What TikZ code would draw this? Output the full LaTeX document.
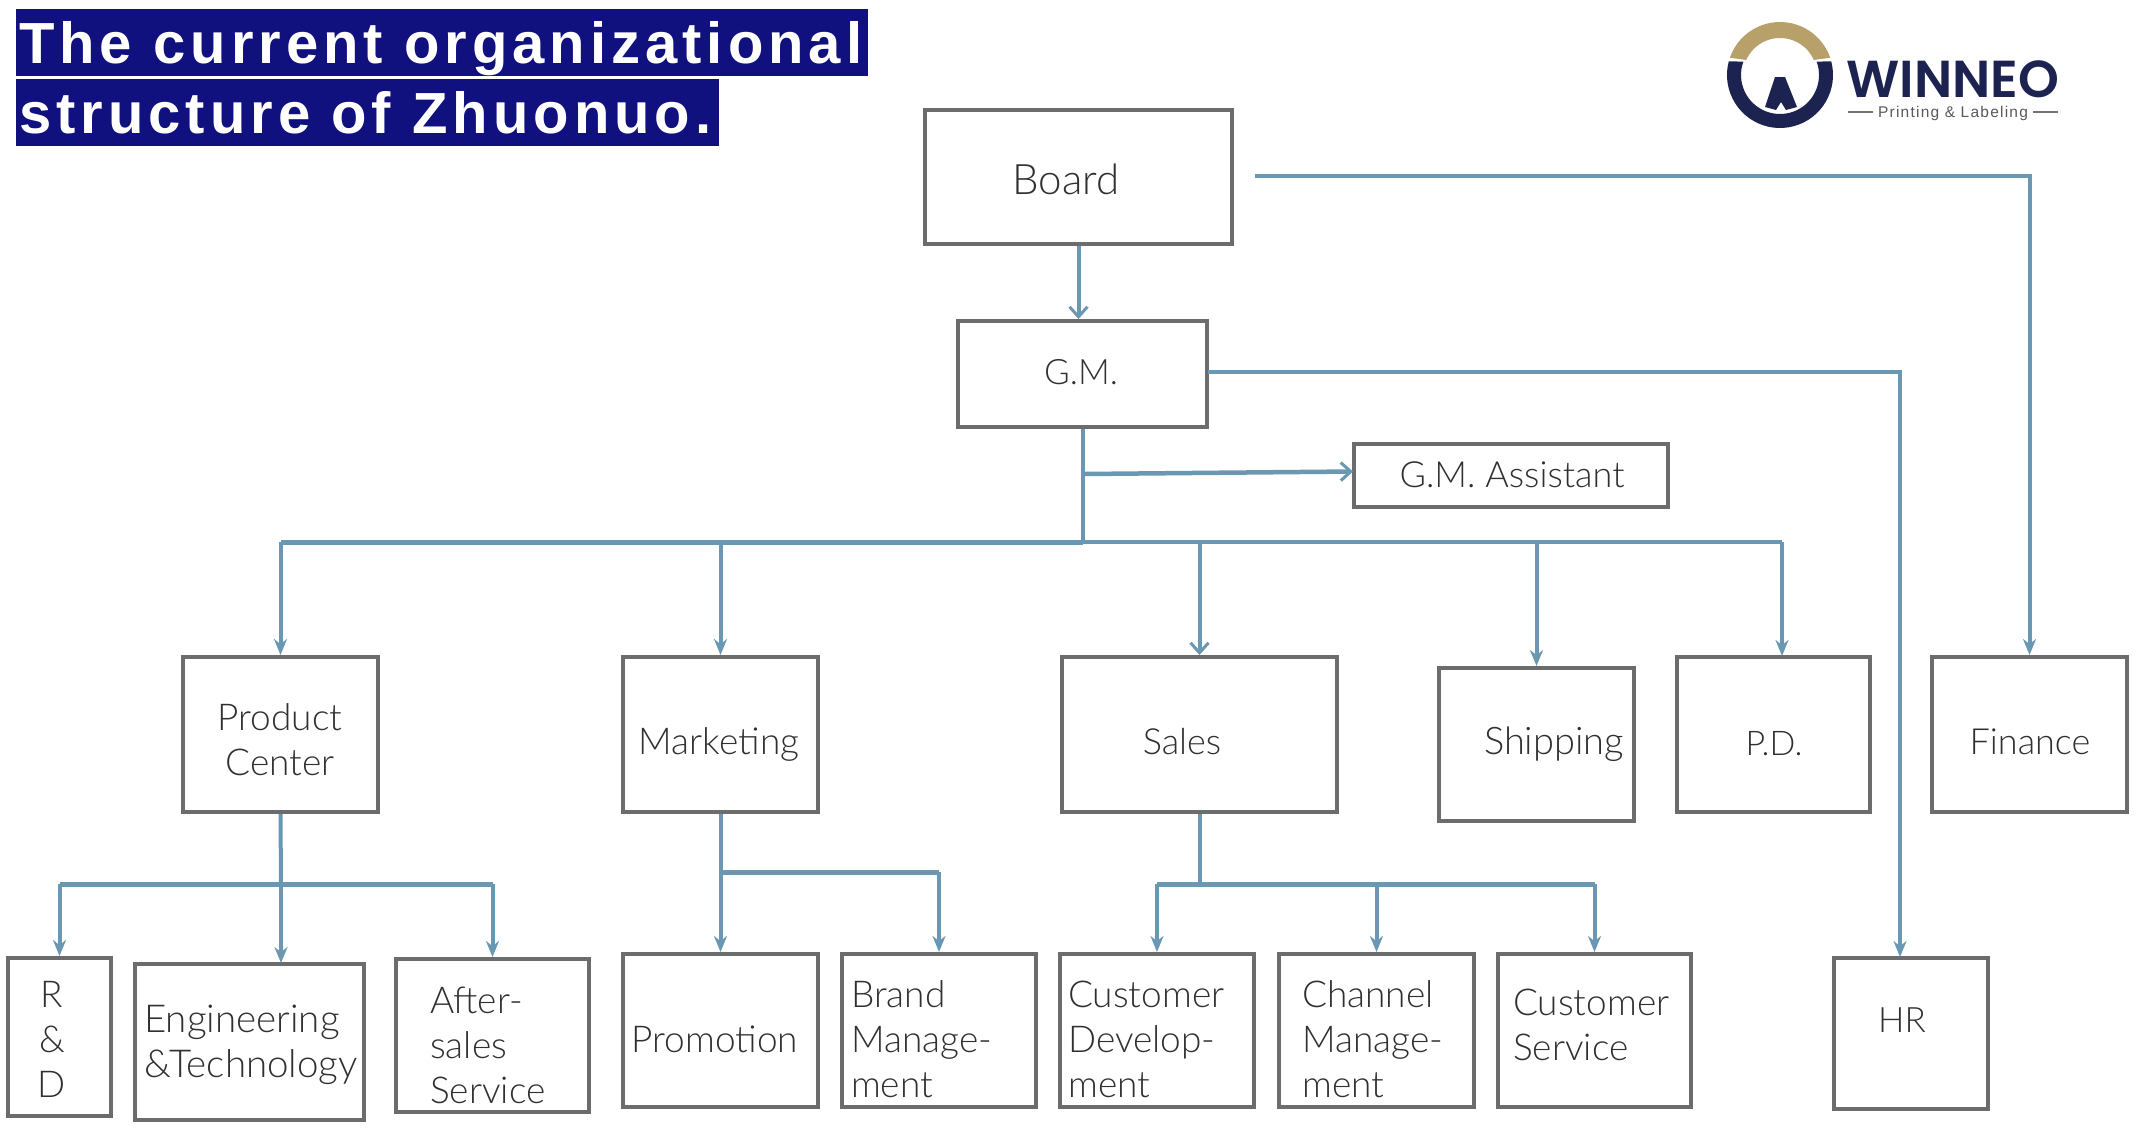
\documentclass[tikz,border=0pt]{standalone}
\usepackage{fontspec}
\usetikzlibrary{arrows.meta,calc}
\setmainfont{Lato Light}
\newfontfamily\titlefont[LetterSpace=8.6]{Liberation Sans Bold}
\newfontfamily\logofont{Poppins SemiBold}
\newfontfamily\logosub[LetterSpace=8]{Liberation Sans}
\definecolor{wireblue}{HTML}{6A97B2}
\definecolor{boxgray}{HTML}{6C6C6C}
\definecolor{titlenavy}{HTML}{10107F}
\definecolor{logonavy}{HTML}{1C2350}
\definecolor{logogold}{HTML}{B8A06A}
\definecolor{inktext}{HTML}{303030}
\tikzset{
  orgbox/.style={draw=boxgray,line width=4pt,fill=white,rectangle,inner sep=0pt},
  orgtext/.style={text=inktext,inner sep=0pt,font=\fontsize{37}{45}\selectfont},
  wire/.style={draw=wireblue,line width=4pt,line join=miter},
  bus/.style={draw=wireblue,line width=5pt},
  tip/.style={-{Stealth[length=16pt,width=13pt]}},
  opentip/.style={-{Straight Barb[length=10pt,width=18pt,line width=3pt]}},
  titleband/.style={fill=titlenavy,draw=none,inner sep=0pt,rectangle},
  titletext/.style={text=white,inner sep=0pt,anchor=base west,font=\titlefont\fontsize{58}{60}\selectfont},
}
\newcommand{\orgrect}[5]{%
  \node[orgbox,minimum width={(#4-#2-2)*1pt},minimum height={(#5-#3-2)*1pt}] (#1) at ({(#2+#4)/2},{(#3+#5)/2}) {};}
\begin{document}
\begin{tikzpicture}[x=1pt,y=-1pt]
\useasboundingbox (0,0) rectangle (2143,1127);
\fill[white] (0,0) rectangle (2143,1127);
% title
\node[titleband,minimum width=852pt,minimum height=67pt] (band1) at (442,42.5) {};
\node[titleband,minimum width=703pt,minimum height=67pt] (band2) at (367.5,112.5) {};
\node[titletext] (title1) at (19,63) {The current organizational};
\node[titletext] (title2) at (19,133) {structure of Zhuonuo.};
% logo
\begin{scope}[shift={(1780,75)}]
\fill[logogold] (-161:53) arc[start angle=-161,end angle=-19,radius=53] -- (-24:37) arc[start angle=-24,end angle=-156,radius=37] -- cycle;
\fill[logonavy] (-15:53) arc[start angle=-15,end angle=195,radius=53] -- (200:39) arc[start angle=200,end angle=-20,radius=39] -- cycle;
\end{scope}
\fill[logonavy] (1775,77) -- (1785,77) -- (1797,107) -- (1786,110) -- (1781,102) -- (1776,110) -- (1765,107) -- cycle;
\node[inner sep=0pt,text=logonavy] (logoword) at (1953,79) {\logofont\fontsize{52}{56}\selectfont WINNEO};
\node[inner sep=0pt,text=black!65] (logosub) at (1953,113) {\logosub\fontsize{15.5}{18}\selectfont Printing \& Labeling};
\coordinate (dashA1) at (1848,112); \coordinate (dashA2) at (1873,112);
\coordinate (dashB1) at (2033,112); \coordinate (dashB2) at (2058,112);
\draw[black!55,line width=1.2pt] (dashA1) -- (dashA2) (dashB1) -- (dashB2);
% boxes
\orgrect{board}{924}{109}{1233}{245}
\orgrect{gm}{957}{320}{1208}{428}
\orgrect{assistant}{1353}{443}{1669}{508}
\orgrect{pc}{182}{656}{379}{813}
\orgrect{mk}{622}{656}{819}{813}
\orgrect{sales}{1061}{656}{1338}{813}
\orgrect{ship}{1438}{667}{1635}{822}
\orgrect{pd}{1676}{656}{1871}{813}
\orgrect{fin}{1931}{656}{2128}{813}
\orgrect{rd}{7}{957}{112}{1117}
\orgrect{eng}{134}{963}{365}{1121}
\orgrect{after}{395}{958}{590}{1113}
\orgrect{promo}{622}{953}{819}{1108}
\orgrect{brand}{841}{953}{1037}{1108}
\orgrect{cdev}{1059}{953}{1255}{1108}
\orgrect{chan}{1278}{953}{1475}{1108}
\orgrect{cserv}{1497}{953}{1692}{1108}
\orgrect{hr}{1833}{957}{1989}{1110}
% texts
\node[orgtext,font=\fontsize{42}{45}\selectfont] (tboard) at (1066,179) {Board};
\node[orgtext,font=\fontsize{35}{45}\selectfont] (tgm) at (1081,372) {G.M.};
\node[orgtext,font=\fontsize{36}{45}\selectfont] (tassistant) at (1512,475) {G.M. Assistant};
\node[orgtext,align=center] (tpc) at (280,740) {Product\\Center};
\node[orgtext] (tmk) at (719,744) {Marketing};
\node[orgtext,font=\fontsize{36}{45}\selectfont] (tsales) at (1182,742) {Sales};
\node[orgtext,font=\fontsize{38}{45}\selectfont] (tship) at (1554,744) {Shipping};
\node[orgtext,font=\fontsize{34}{45}\selectfont] (tpd) at (1774,744) {P.D.};
\node[orgtext,font=\fontsize{36}{45}\selectfont] (tfin) at (2030,742) {Finance};
\node[orgtext,font=\fontsize{35}{45}\selectfont] (thr) at (1902,1020) {HR};
\node[orgtext,align=center] (trd) at (52,1039) {R\\\&\\D};
\node[orgtext,font=\fontsize{38.5}{45}\selectfont,align=left,anchor=west] (teng) at (144,1045) {Engineering\\\&Technology};
\node[orgtext,align=left,anchor=west] (tafter) at (430,1045) {After-\\sales\\Service};
\node[orgtext] (tpromo) at (715,1039) {Promotion};
\node[orgtext,align=left,anchor=west] (tbrand) at (851,1039) {Brand\\Manage-\\ment};
\node[orgtext,align=left,anchor=west] (tcdev) at (1068,1039) {Customer\\Develop-\\ment};
\node[orgtext,align=left,anchor=west] (tchan) at (1302,1039) {Channel\\Manage-\\ment};
\node[orgtext,align=left,anchor=west] (tcserv) at (1513,1025) {Customer\\Service};
% junctions
\coordinate (busmid) at (1082.5,542);
\coordinate (boardout) at (1255,176);
\coordinate (finturn) at (2029.5,176);
\coordinate (gmout) at (1208,372);
\coordinate (gmturn) at (1900,372);
\coordinate (hrin) at (1900,957);
\coordinate (asttap) at (1084,474);
\coordinate (astin) at (1353,471.5);
\coordinate (pdin) at (1782,656);
\coordinate (pcbus) at (281,884);
\coordinate (engin) at (281,963);
\coordinate (mkbus) at (720.5,872);
\coordinate (salesbus) at (1199.5,884);
% connectors
\draw[wire,opentip] (board.south) -- (gm.north -| board.south);
\draw[wire,tip] (boardout) -- (finturn) -- (fin.north);
\draw[wire,tip] (gmout) -- (gmturn) -- (hrin);
\draw[wire] (gm.south) -- (busmid);
\draw[wire,opentip,line width=4.5pt] (asttap) -- (astin);
\draw[bus] (busmid) -- (pc.north |- busmid);
\draw[bus,line width=4pt] (busmid) -- (pdin |- busmid);
\draw[wire,tip] (busmid -| pc.north) -- (pc.north);
\draw[wire,tip] (busmid -| mk.north) -- (mk.north);
\draw[wire,opentip] (busmid -| sales.north) -- (sales.north);
\draw[wire,tip] (busmid -| ship.north) -- (ship.north);
\draw[wire,tip] (busmid -| pdin) -- (pdin);
% lower tiers
\draw[wire] (pc.south) -- (pcbus);
\draw[wire,tip] (pcbus) -- (engin);
\draw[bus] (pcbus -| rd.north) -- (pcbus -| after.north);
\draw[wire,tip] (pcbus -| rd.north) -- (rd.north);
\draw[wire,tip] (pcbus -| after.north) -- (after.north);
\draw[wire,tip] (mk.south) -- (promo.north);
\draw[bus] (mkbus) -- (mkbus -| brand.north);
\draw[wire,tip] (mkbus -| brand.north) -- (brand.north);
\draw[wire,line width=4pt] (sales.south) -- (salesbus);
\draw[bus] (salesbus -| cdev.north) -- (salesbus -| cserv.north);
\draw[wire,tip] (salesbus -| cdev.north) -- (cdev.north);
\draw[wire,tip] (salesbus -| chan.north) -- (chan.north);
\draw[wire,tip] (salesbus -| cserv.north) -- (cserv.north);
\end{tikzpicture}
\end{document}
